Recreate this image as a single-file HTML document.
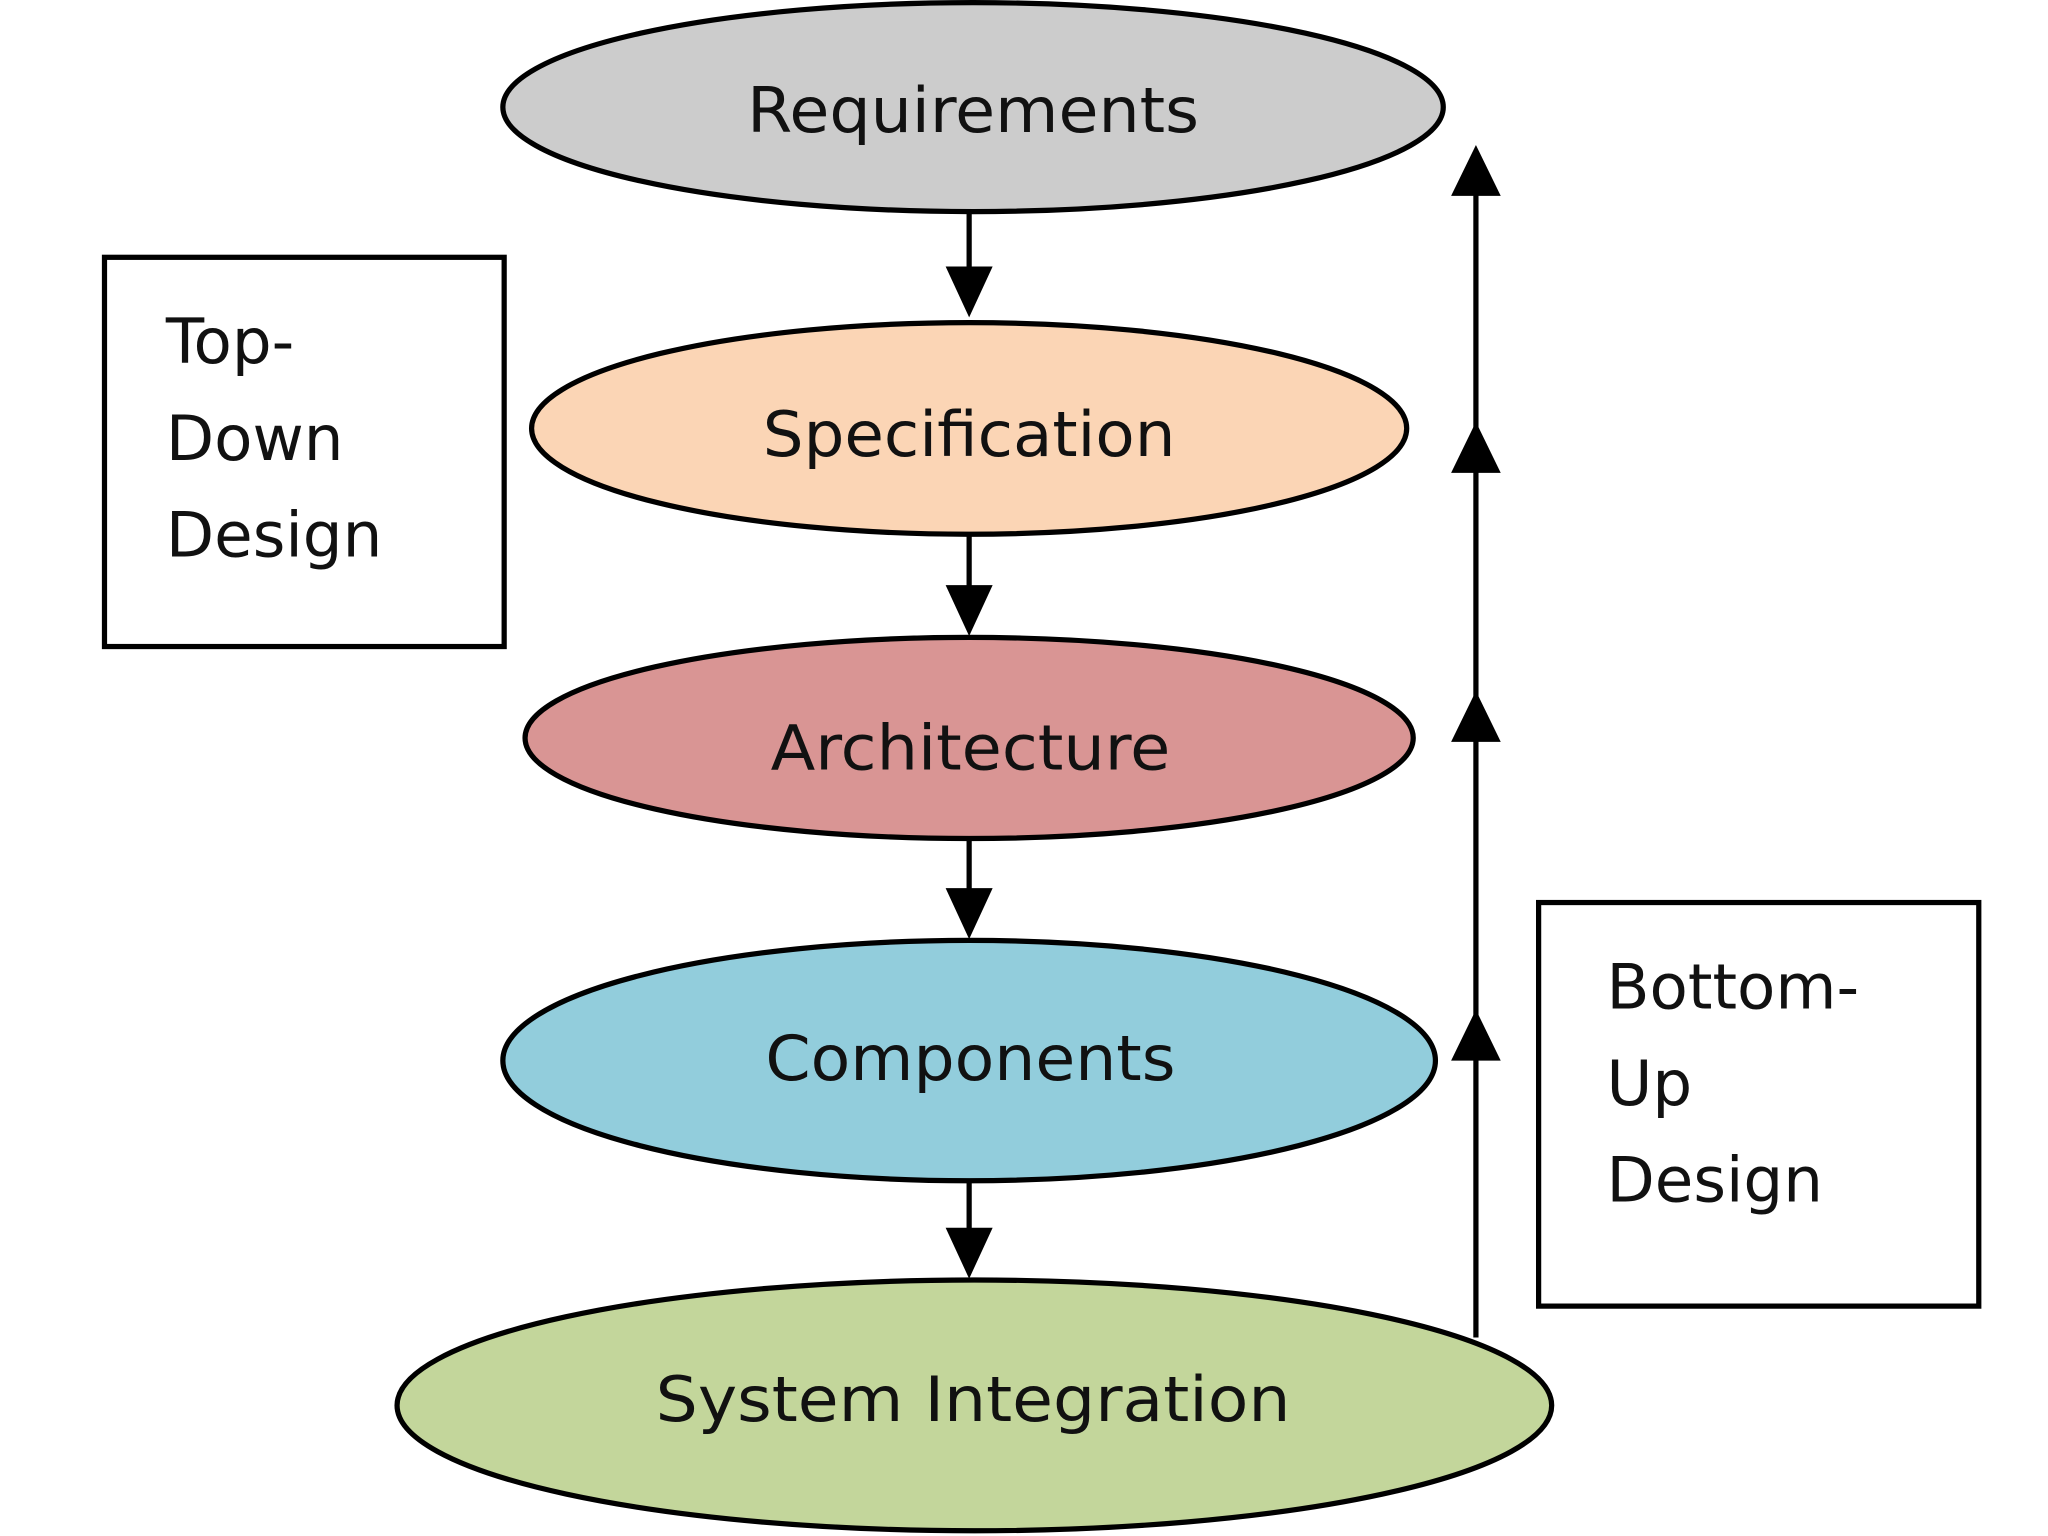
<!DOCTYPE html>
<html><head><meta charset="utf-8"><style>
html,body{margin:0;padding:0;background:#fff;}
svg{display:block;}
text{font-family:"DejaVu Sans","Liberation Sans",sans-serif;fill:#111;}
</style></head><body>
<svg width="2048" height="1536" viewBox="0 0 1568 1176" preserveAspectRatio="none" xmlns="http://www.w3.org/2000/svg">
<rect width="1568" height="1176" fill="#fff"/>
<g stroke="#000" stroke-width="4">
<ellipse cx="745" cy="82" rx="360" ry="80" fill="#cccccc"/>
<ellipse cx="742" cy="328" rx="335" ry="81" fill="#fbd5b5"/>
<ellipse cx="742" cy="565" rx="340" ry="77" fill="#d99594"/>
<ellipse cx="742" cy="812" rx="357" ry="92" fill="#92cddc"/>
<ellipse cx="746" cy="1076" rx="442" ry="96" fill="#c3d69b"/>
<rect x="80" y="197" width="306" height="298" fill="#fff"/>
<rect x="1178" y="691" width="337" height="309" fill="#fff"/>
</g>
<g stroke="#000" stroke-width="4">
<line x1="742" y1="163" x2="742" y2="210"/>
<line x1="742" y1="410" x2="742" y2="452"/>
<line x1="742" y1="642" x2="742" y2="684"/>
<line x1="742" y1="905" x2="742" y2="944"/>
<line x1="1130" y1="1024" x2="1130" y2="140"/>
</g>
<g fill="#000">
<polygon points="724,204 760,204 742,243"/>
<polygon points="724,448 760,448 742,487"/>
<polygon points="724,680 760,680 742,719"/>
<polygon points="724,940 760,940 742,979"/>
<polygon points="1111,150 1149,150 1130,111"/>
<polygon points="1111,362 1149,362 1130,323"/>
<polygon points="1111,568 1149,568 1130,529"/>
<polygon points="1111,812 1149,812 1130,773"/>
</g>
<g font-size="48" text-anchor="middle">
<text x="745" y="101" textLength="346" lengthAdjust="spacingAndGlyphs">Requirements</text>
<text x="742" y="349" textLength="316" lengthAdjust="spacingAndGlyphs">Specification</text>
<text x="743" y="589" textLength="306" lengthAdjust="spacingAndGlyphs">Architecture</text>
<text x="743" y="827" textLength="314" lengthAdjust="spacingAndGlyphs">Components</text>
<text x="745" y="1088" textLength="486" lengthAdjust="spacingAndGlyphs">System Integration</text>
</g>
<g font-size="48">
<text x="127" y="278">Top-</text>
<text x="127" y="352">Down</text>
<text x="127" y="426">Design</text>
<text x="1230" y="772">Bottom-</text>
<text x="1230" y="846">Up</text>
<text x="1230" y="920">Design</text>
</g>
</svg>
</body></html>
